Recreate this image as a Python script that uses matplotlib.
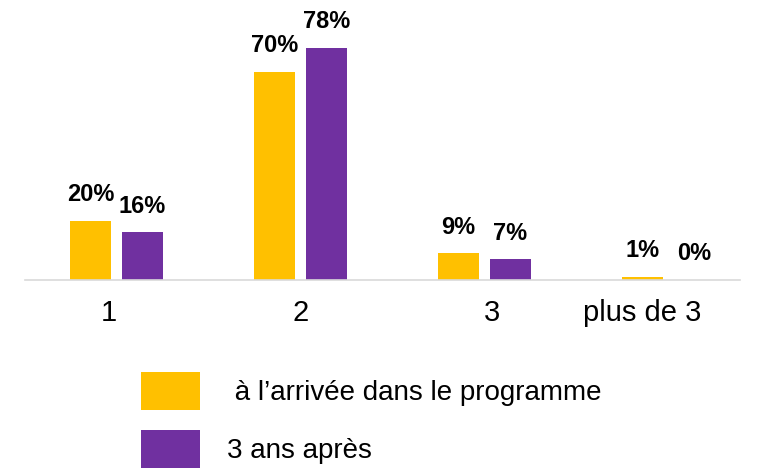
import matplotlib.pyplot as plt
from matplotlib.transforms import ScaledTranslation
import numpy as np

# données
categories = ['1', '2', '3', 'plus de 3']
arrivee = [20, 70, 9, 1]
apres_3ans = [16, 78, 7, 0]
series_labels = [' à l\u2019arrivée dans le programme', '3 ans après']

col_yellow = '#FFC000'
col_purple = '#7030A0'

plt.rcParams['font.family'] = ['Liberation Sans', 'DejaVu Sans']

fig = plt.figure(figsize=(7.7, 4.76), dpi=100)
ax = fig.add_axes([25 / 770, 196 / 476, 715 / 770, 238 / 476])

x = np.arange(len(categories))
w = 0.223
off = 0.141

b1 = ax.bar(x - off, arrivee, w, color=col_yellow, label=series_labels[0], zorder=2)
b2 = ax.bar(x + off, apres_3ans, w, color=col_purple, label=series_labels[1], zorder=2)

for bars, vals in ((b1, arrivee), (b2, apres_3ans)):
    for rect, v in zip(bars, vals):
        ax.annotate(f'{v}%', xy=(rect.get_x() + rect.get_width() / 2, v),
                    xytext=(0, 10.5), textcoords='offset points',
                    ha='center', va='bottom', fontsize=17, fontweight='bold',
                    color='black')

ax.set_xlim(-0.497, 3.389)
ax.set_ylim(0, 80)
ax.set_xticks(x)
ax.set_xticklabels(categories, fontsize=21)
ax.tick_params(axis='x', length=0, pad=14)
ax.set_yticks([])

# décalages des étiquettes comme dans l'original
shifts = [-8, 0, 8, -26]
for lab, dx in zip(ax.get_xticklabels(), shifts):
    lab.set_transform(lab.get_transform() + ScaledTranslation(dx / 100, 0, fig.dpi_scale_trans))

for s in ['top', 'right', 'left']:
    ax.spines[s].set_visible(False)
ax.spines['bottom'].set_color('#d9d9d9')
ax.spines['bottom'].set_linewidth(1.2)

fig.legend(handles=[b1, b2], loc='upper left',
           bbox_to_anchor=(141 / 770, 1 - 372 / 476),
           frameon=False, fontsize=20, borderpad=0, borderaxespad=0,
           handlelength=2.12, handleheight=1.72, handletextpad=0.97,
           labelspacing=0.73)

fig.savefig('out.png', dpi=100, facecolor='white')
